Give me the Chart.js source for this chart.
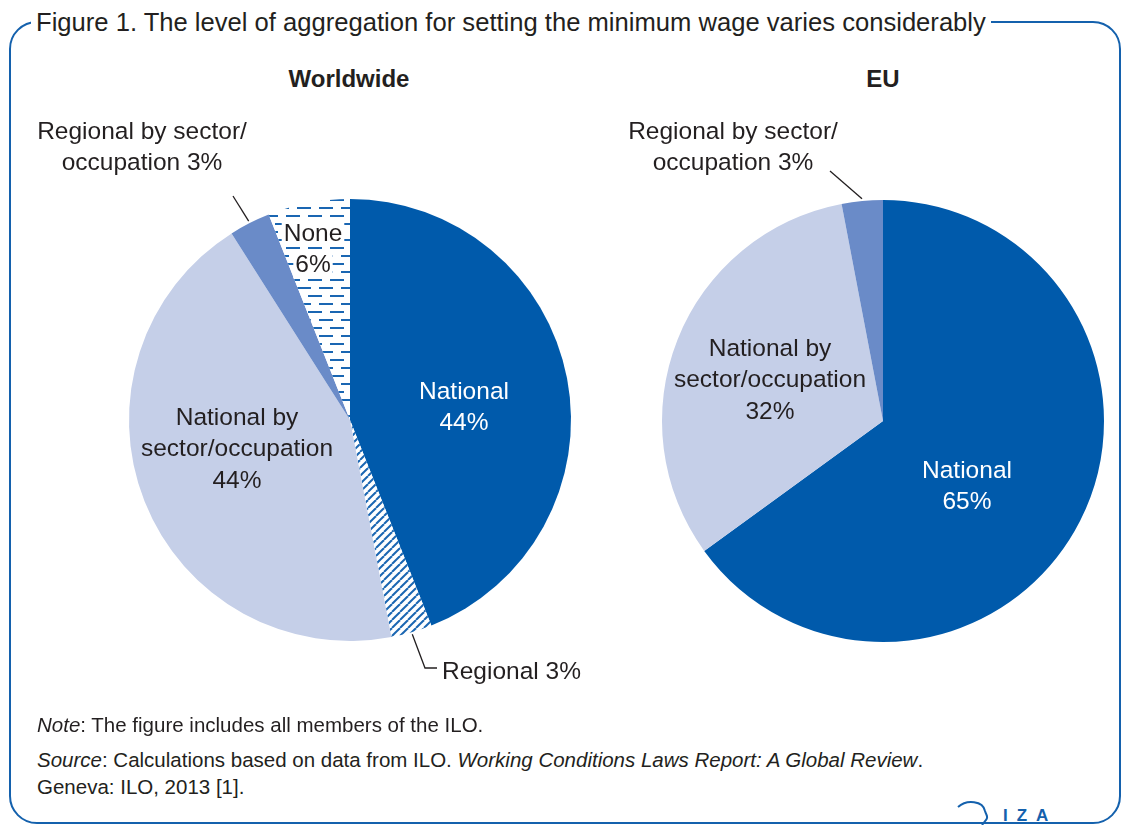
<!DOCTYPE html>
<html>
<head>
<meta charset="utf-8">
<script src="https://cdn.jsdelivr.net/npm/chart.js@4.4.1/dist/chart.umd.min.js"></script>
<style>
  body { margin:0; width:1127px; height:825px; background:#fff; position:relative; overflow:hidden;
         font-family:"Liberation Sans", Arial, sans-serif; color:#231f20; }
  #frame { position:absolute; left:9px; top:21px; width:1112px; height:803px; box-sizing:border-box;
           border:2.5px solid #1461ad; border-radius:28px; }
  #title { position:absolute; left:31px; top:7px; font-size:25.6px; line-height:30px; background:#fff; padding:0 5px; white-space:nowrap; }
  .sub { position:absolute; top:64px; font-size:24px; font-weight:bold; line-height:30px; text-align:center; width:300px; }
  canvas { position:absolute; }
  .note { position:absolute; left:37px; font-size:20.5px; line-height:27px; }
  #logo { position:absolute; left:955px; top:797px; }
</style>
</head>
<body>
<div id="frame"></div>
<div id="title">Figure 1. The level of aggregation for setting the minimum wage varies considerably</div>
<div class="sub" style="left:199px">Worldwide</div>
<div class="sub" style="left:733px">EU</div>
<canvas id="world" width="700" height="620" style="left:0;top:100px"></canvas>
<canvas id="eu" width="594" height="620" style="left:533px;top:101px"></canvas>
<div class="note" style="top:711px"><i>Note</i>: The figure includes all members of the ILO.</div>
<div class="note" style="top:746px"><i>Source</i>: Calculations based on data from ILO. <i>Working Conditions Laws Report: A Global Review</i>.<br>Geneva: ILO, 2013 [1].</div>
<svg id="logo" width="100" height="28">
  <path d="M3 10 C 12 2, 28 4, 30 14 C 31 18, 34 20, 31 23 L 27 28" fill="none" stroke="#1461ad" stroke-width="2"/>
  <text x="48" y="24" font-family="Liberation Sans, Arial" font-weight="bold" font-size="17" fill="#1461ad" letter-spacing="9">IZA</text>
</svg>
<script>
// data
const worldLabels = ['National', 'Regional', 'National by sector/occupation', 'Regional by sector/occupation', 'None'];
const worldValues = [44, 3, 44, 3, 6];
const euLabels = ['National', 'National by sector/occupation', 'Regional by sector/occupation'];
const euValues = [65, 32, 3];

const DARK = '#005aab', LIGHT = '#c5cfe8', MID = '#6a8bc8', INK = '#231f20';

// patterns
function hatchPattern() {
  const c = document.createElement('canvas'); c.width = 8; c.height = 8;
  const g = c.getContext('2d');
  g.fillStyle = '#fff'; g.fillRect(0, 0, 8, 8);
  g.strokeStyle = '#1a66b2'; g.lineWidth = 2;
  for (let k = -1; k <= 1; k++) {
    g.beginPath(); g.moveTo(k * 8, 8); g.lineTo(k * 8 + 8, 0); g.stroke();
  }
  return g.createPattern(c, 'repeat');
}
function dashPattern() {
  const c = document.createElement('canvas'); c.width = 22; c.height = 16;
  const g = c.getContext('2d');
  g.fillStyle = '#fff'; g.fillRect(0, 0, 22, 16);
  g.fillStyle = '#1a66b2';
  g.fillRect(0, 3, 14, 2);
  g.fillRect(11, 11, 11, 2);
  g.fillRect(0, 11, 3, 2);
  return g.createPattern(c, 'repeat');
}

// labels drawn next to the slices
const sliceLabels = {
  id: 'sliceLabels',
  afterDatasetsDraw(chart) {
    const items = chart.config.options.labelItems || [];
    const arcs = chart.getDatasetMeta(0).data;
    const cx = arcs[0].x, cy = arcs[0].y;
    const ctx = chart.ctx;
    ctx.save();
    ctx.font = '24.5px "Liberation Sans", Arial, sans-serif';
    ctx.textBaseline = 'middle';
    items.forEach(it => {
      if (it.leader) {
        const a = arcs[it.i];
        const mid = (a.startAngle + a.endAngle) / 2;
        const r = a.outerRadius * 1.01;
        ctx.strokeStyle = INK; ctx.lineWidth = 1.3;
        ctx.beginPath();
        ctx.moveTo(cx + r * Math.cos(mid), cy + r * Math.sin(mid));
        it.leader.forEach(p => ctx.lineTo(cx + p[0], cy + p[1]));
        ctx.stroke();
      }
      ctx.textAlign = it.align || 'center';
      it.lines.forEach((t, k) => {
        const x = cx + it.dx, y = cy + it.dy + k * 31.5;
        if (it.bg) {
          const w = ctx.measureText(t).width;
          ctx.fillStyle = '#fff';
          ctx.fillRect(x - w / 2 - 2, y - 13, w + 4, 26);
        }
        ctx.fillStyle = it.color || INK;
        ctx.fillText(t, x, y);
      });
    });
    ctx.restore();
  }
};

function pie(id, labels, values, colors, pad, items) {
  return new Chart(document.getElementById(id), {
    type: 'pie',
    data: { labels, datasets: [{ data: values, backgroundColor: colors, borderWidth: 0, hoverOffset: 0 }] },
    options: {
      responsive: false, animation: false, events: [],
      layout: { padding: pad },
      plugins: { legend: { display: false }, tooltip: { enabled: false } },
      labelItems: items
    },
    plugins: [sliceLabels]
  });
}

pie('world', worldLabels, worldValues, [DARK, hatchPattern(), LIGHT, MID, dashPattern()],
  { top: 99, bottom: 79, left: 129, right: 129 },
  [
    { i: 0, lines: ['National', worldValues[0] + '%'], dx: 114, dy: -28, color: '#fff' },
    { i: 2, lines: ['National by', 'sector/occupation', worldValues[2] + '%'], dx: -113, dy: -2 },
    { i: 4, lines: ['None', worldValues[4] + '%'], dx: -37, dy: -186, bg: true },
    { i: 1, lines: ['Regional ' + worldValues[1] + '%'], dx: 92, dy: 252, align: 'left', leader: [[75, 248], [87, 248]] },
    { i: 3, lines: ['Regional by sector/', 'occupation ' + worldValues[3] + '%'], dx: -208, dy: -288, leader: [[-117, -224]] }
  ]);

pie('eu', euLabels, euValues, [DARK, LIGHT, MID],
  { top: 99, bottom: 79, left: 129, right: 23 },
  [
    { i: 0, lines: ['National', euValues[0] + '%'], dx: 84, dy: 50, color: '#fff' },
    { i: 1, lines: ['National by', 'sector/occupation', euValues[1] + '%'], dx: -113, dy: -72 },
    { i: 2, lines: ['Regional by sector/', 'occupation ' + euValues[2] + '%'], dx: -150, dy: -289, leader: [[-53, -250]] }
  ]);
</script>
</body>
</html>
